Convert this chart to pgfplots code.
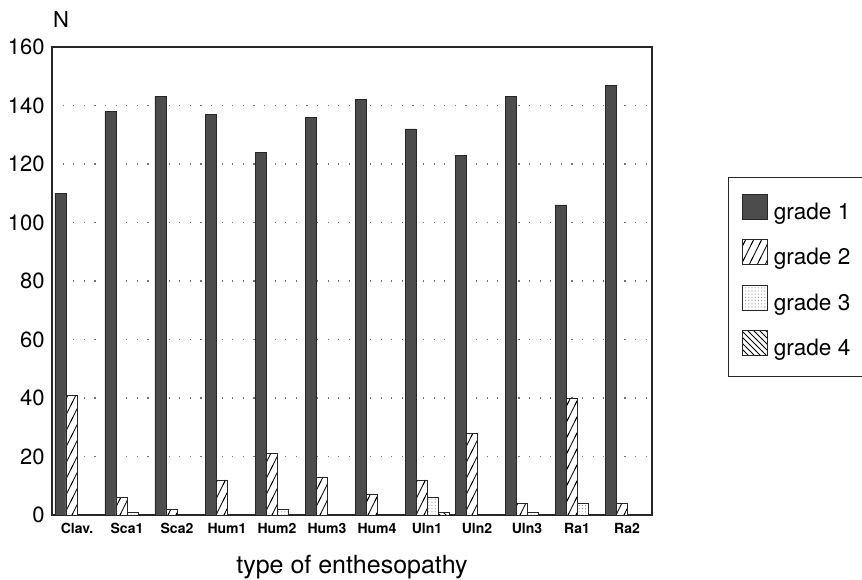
\documentclass[border=0pt]{standalone}
\usepackage{fontspec}
\setmainfont{TeX Gyre Heros}
\usepackage{pgfplots}
\pgfplotsset{compat=1.18}
\usetikzlibrary{patterns}

\pgfdeclarepatternformonly{steep lines}{\pgfqpoint{-1pt}{-1pt}}{\pgfqpoint{5pt}{9pt}}{\pgfqpoint{4pt}{8pt}}{%
  \pgfsetlinewidth{0.4pt}%
  \pgfpathmoveto{\pgfqpoint{-0.5pt}{-1pt}}%
  \pgfpathlineto{\pgfqpoint{4.5pt}{9pt}}%
  \pgfusepath{stroke}}
\pgfdeclarepatternformonly{fine dots}{\pgfqpoint{-0.3pt}{-0.3pt}}{\pgfqpoint{0.3pt}{0.3pt}}{\pgfqpoint{1.6pt}{1.6pt}}{%
  \pgfpathcircle{\pgfqpoint{0pt}{0pt}}{0.28pt}%
  \pgfusepath{fill}}
\newcommand{\legtxt}[1]{\makebox[80pt][l]{#1}}

\begin{document}
\begin{tikzpicture}
\begin{axis}[name=ax, scale only axis, width=300pt, height=234pt,
  ybar=0pt, bar width=0.22,
  xmin=-0.5, xmax=11.5, ymin=0, ymax=160,
  xtick={0,...,11},
  xticklabels={Clav.,Sca1,Sca2,Hum1,Hum2,Hum3,Hum4,Uln1,Uln2,Uln3,Ra1,Ra2},
  ytick={0,20,...,160},
  major tick length=0pt,
  ymajorgrids,
  major grid style={black!55, line width=0.6pt, dash pattern=on 0.6pt off 4.7pt},
  axis line style={line width=0.6pt, black!85},
  /pgf/number format/assume math mode=true,
  yticklabel style={font=\fontsize{11}{13}\selectfont, inner sep=0pt, xshift=-3.5pt},
  xticklabel style={font=\fontsize{7}{8}\selectfont\bfseries, inner sep=0pt, yshift=-4pt},
  xlabel={type of enthesopathy},
  every axis x label/.style={at={(axis description cs:0.5,0)}, anchor=center, yshift=-26pt, font=\fontsize{12.5}{14}\selectfont},
  ylabel={N},
  every axis y label/.style={at={(axis description cs:0,1)}, anchor=center, xshift=4.5pt, yshift=14pt, font=\fontsize{11}{13}\selectfont},
  legend cell align=left,
  legend image code/.code={\draw[#1, line width=0.4pt] (0pt,-2.75pt) rectangle (12.5pt,9.75pt);},
  legend style={at={(1.1267,0.7222)}, anchor=north west, draw=black!85, line width=0.6pt,
    inner xsep=6.5pt, inner ysep=8pt, row sep=7.6pt, column sep=3.2pt,
    font=\fontsize{11.3}{13}\selectfont,
    nodes={inner sep=0pt, text height=8pt, text depth=2.5pt}},
]
\addplot[fill=black!70, draw=black!85, line width=0.4pt] coordinates {
  (0,110) (1,138) (2,143) (3,137) (4,124) (5,136) (6,142) (7,132) (8,123) (9,143) (10,106) (11,147)};
\addplot[fill=white, draw=black!85, line width=0.4pt, postaction={pattern=steep lines}] coordinates {
  (0,41) (1,6) (2,2) (3,12) (4,21) (5,13) (6,7) (7,12) (8,28) (9,4) (10,40) (11,4)};
\addplot[fill=white, draw=black!85, line width=0.4pt, postaction={pattern=fine dots, pattern color=black!45}] coordinates {
  (0,0) (1,1) (2,0) (3,0) (4,2) (5,0) (6,0) (7,6) (8,0) (9,1) (10,4) (11,0)};
\addplot[fill=white, draw=black!85, line width=0.4pt, postaction={pattern=north west lines}] coordinates {
  (0,0) (1,0) (2,0) (3,0) (4,0) (5,0) (6,0) (7,1) (8,0) (9,0) (10,0) (11,0)};
\legend{\legtxt{grade 1}, \legtxt{grade 2}, \legtxt{grade 3}, \legtxt{grade 4}}
\end{axis}
\pgfresetboundingbox
\path[use as bounding box] ([shift={(-26pt,-32pt)}]ax.south west) rectangle ([shift={(405pt,23.5pt)}]ax.north west);
\end{tikzpicture}
\end{document}
